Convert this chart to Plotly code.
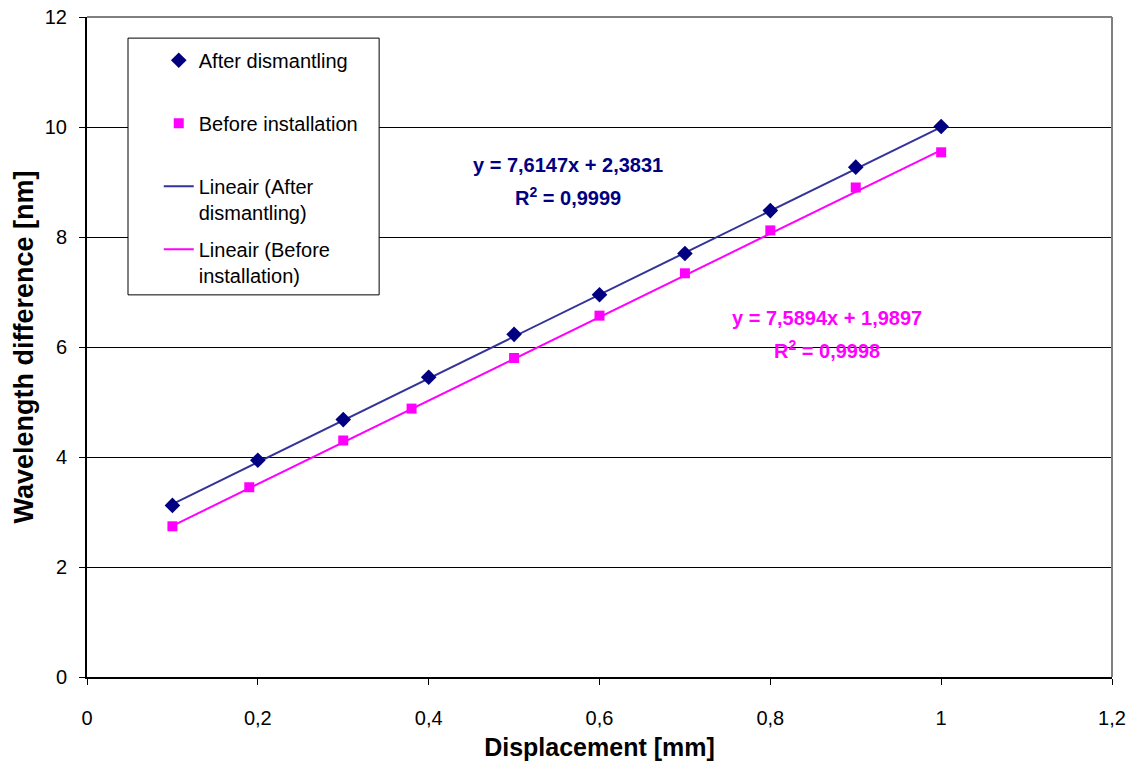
import numpy as np
import plotly.graph_objects as go

# Measured wavelength difference vs. displacement
after_x = [0.1, 0.2, 0.3, 0.4, 0.5, 0.6, 0.7, 0.8, 0.9, 1.0]
after_y = [3.12, 3.94, 4.68, 5.45, 6.23, 6.95, 7.70, 8.48, 9.27, 10.01]

before_x = [0.1, 0.19, 0.3, 0.38, 0.5, 0.6, 0.7, 0.8, 0.9, 1.0]
before_y = [2.74, 3.45, 4.30, 4.88, 5.80, 6.57, 7.34, 8.12, 8.90, 9.54]

# Linear trend coefficients (slope, intercept, R^2)
after_fit = (7.6147, 2.3831, 0.9999)
before_fit = (7.5894, 1.9897, 0.9998)

x_ticks = [0, 0.2, 0.4, 0.6, 0.8, 1.0, 1.2]
y_ticks = [0, 2, 4, 6, 8, 10, 12]

NAVY = "#000080"
NAVY_LINE = "#333399"
MAGENTA = "#FF00FF"
FONT = "Liberation Sans, Arial, sans-serif"


def fmt(v, nd=4):
    return f"{v:.{nd}f}".replace(".", ",")


def trend(xs, fit):
    xr = np.array([min(xs), max(xs)])
    return xr, fit[0] * xr + fit[1]


fig = go.Figure()

# trend lines first so the markers are drawn on top
ax, ay = trend(after_x, after_fit)
fig.add_trace(go.Scatter(
    x=ax, y=ay, mode="lines", name="Lineair (After<br>dismantling)",
    line=dict(color=NAVY_LINE, width=2), legendgroup="c", legendrank=3,
))
bx, by = trend(before_x, before_fit)
fig.add_trace(go.Scatter(
    x=bx, y=by, mode="lines", name="Lineair (Before<br>installation)",
    line=dict(color=MAGENTA, width=2), legendgroup="d", legendrank=4,
))
fig.add_trace(go.Scatter(
    x=after_x, y=after_y, mode="markers", name="After dismantling<br> ",
    marker=dict(symbol="diamond", size=12, color=NAVY, line=dict(width=0)),
    legendgroup="a", legendrank=1, cliponaxis=False,
))
fig.add_trace(go.Scatter(
    x=before_x, y=before_y, mode="markers", name="Before installation<br> ",
    marker=dict(symbol="square", size=10, color=MAGENTA, line=dict(width=0)),
    legendgroup="b", legendrank=2, cliponaxis=False,
))

annotations = []
for fit, color, xpos, ypos in [
    (after_fit, NAVY, 0.563, 9.31),
    (before_fit, MAGENTA, 0.866, 6.53),
]:
    annotations.append(dict(
        x=xpos, y=ypos, xref="x", yref="y", showarrow=False,
        text=f"<b>y = {fmt(fit[0])}x + {fmt(fit[1])}</b>",
        font=dict(family=FONT, size=20, color=color),
    ))
    annotations.append(dict(
        x=xpos, y=ypos - 0.58, xref="x", yref="y", showarrow=False,
        text=f"<b>R<sup>2</sup> = {fmt(fit[2])}</b>",
        font=dict(family=FONT, size=20, color=color),
    ))

shapes = [
    # top and right frame of the plot area
    dict(type="line", xref="paper", yref="paper", x0=0, x1=1, y0=1, y1=1,
         line=dict(color="#808080", width=2), layer="above"),
    dict(type="line", xref="paper", yref="paper", x0=1, x1=1, y0=0, y1=1,
         line=dict(color="#808080", width=2), layer="above"),
    # legend frame
    dict(type="rect", xref="paper", yref="paper",
         x0=0.040, x1=0.285, y0=0.579, y1=0.968,
         line=dict(color="black", width=1), fillcolor="white", layer="above"),
]

fig.update_layout(
    width=1128, height=764,
    margin=dict(l=87, r=16, t=17, b=87, autoexpand=False),
    paper_bgcolor="white", plot_bgcolor="white",
    separators=",.",
    font=dict(family=FONT, size=20, color="black"),
    showlegend=True,
    legend=dict(
        x=0.070, y=0.964, xanchor="left", yanchor="top",
        bgcolor="rgba(0,0,0,0)", borderwidth=0,
        traceorder="grouped", tracegroupgap=8, valign="top",
        font=dict(family=FONT, size=20, color="black"),
        itemwidth=30,
    ),
    annotations=annotations,
    shapes=shapes,
    xaxis=dict(
        range=[0, 1.2], tickvals=x_ticks, automargin=False,
        showgrid=False, zeroline=False,
        showline=True, linecolor="black", linewidth=2,
        ticks="outside", ticklen=6, tickcolor="black", tickwidth=1,
        ticklabelstandoff=16,
        title=dict(text="<b>Displacement [mm]</b>", standoff=10,
                   font=dict(family=FONT, size=25, color="black")),
        tickfont=dict(family=FONT, size=20, color="black"),
    ),
    yaxis=dict(
        range=[0, 12], tickvals=y_ticks, automargin=False,
        showgrid=True, gridcolor="black", gridwidth=1, zeroline=False,
        showline=True, linecolor="black", linewidth=2,
        ticks="outside", ticklen=6, tickcolor="black", tickwidth=1,
        ticklabelstandoff=8,
        title=dict(text="<b>Wavelength difference [nm]</b>", standoff=3,
                   font=dict(family=FONT, size=27, color="black")),
        tickfont=dict(family=FONT, size=20, color="black"),
    ),
)

fig.write_html("out.html")
